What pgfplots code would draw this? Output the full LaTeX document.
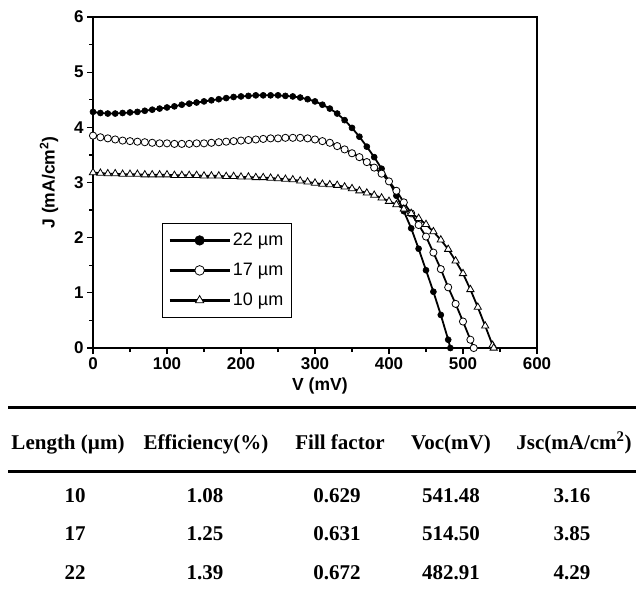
\documentclass[border=0pt]{standalone}
\usepackage{fontspec}
\setmainfont{Liberation Sans}
\newfontfamily\tabfont{Liberation Serif}
\usepackage{pgfplots}
\pgfplotsset{compat=1.18}

\begin{document}
\begin{tikzpicture}
\useasboundingbox (0pt,0pt) rectangle (636pt,-591pt);
\begin{axis}[
  at={(93pt,-348pt)}, anchor=south west,
  scale only axis, width=444pt, height=331pt,
  xmin=0, xmax=600, ymin=0, ymax=6,
  xtick={0,100,...,600}, ytick={0,1,...,6},
  minor x tick num=1, minor y tick num=1,
  tick align=outside, tick pos=left,
  major tick length=6pt, minor tick length=4pt,
  axis line style={line width=1.3pt},
  every tick/.style={line width=1.2pt, black},
  /pgf/number format/assume math mode=true,
  ticklabel style={font=\fontsize{17}{17}\selectfont\bfseries},
  xlabel={V (mV)}, ylabel={J (mA/cm\textsuperscript{2})},
  label style={font=\fontsize{17.5}{17.5}\selectfont\bfseries},
  xlabel style={at={(axis description cs:0.511,-0.115)}, anchor=center},
  ylabel style={at={(axis description cs:-0.099,0.5)}, anchor=center},
  legend style={at={(axis description cs:0.155,0.378)}, anchor=north west,
    draw=black, line width=1pt, font=\fontsize{18}{18}\selectfont,
    row sep=12pt, inner xsep=6pt, inner ysep=8pt},
  legend cell align=left,
  legend image code/.code={
    \draw[line width=2.6pt, black] (0pt,0pt) -- (60pt,0pt);
    \draw[#1, line width=1pt] plot[only marks, mark size=4.8pt] coordinates {(30pt,0pt)};
  },
]
% 22 um
\addplot[black, line width=1.8pt, mark=*, mark size=3pt, mark options={fill=black, line width=0.6pt}] coordinates {
(0,4.28)(10,4.26)(20,4.25)(30,4.25)(40,4.26)(50,4.27)(60,4.28)(70,4.30)(80,4.32)(90,4.34)
(100,4.36)(110,4.38)(120,4.41)(130,4.43)(140,4.45)(150,4.47)(160,4.49)(170,4.51)(180,4.53)(190,4.55)
(200,4.56)(210,4.57)(220,4.58)(230,4.58)(240,4.58)(250,4.58)(260,4.57)(270,4.56)(280,4.54)(290,4.51)
(300,4.47)(310,4.41)(320,4.34)(330,4.25)(340,4.13)(350,3.99)(360,3.83)(370,3.65)(380,3.46)(390,3.25)
(400,3.02)(410,2.76)(420,2.48)(430,2.17)(440,1.80)(450,1.41)(460,1.02)(470,0.60)(480,0.15)(482.91,0)
};
\addlegendentry{22 µm}
% 17 um
\addplot[black, line width=1.8pt, mark=*, mark size=3.6pt, mark options={fill=white, line width=0.8pt}] coordinates {
(0,3.85)(10,3.82)(20,3.80)(30,3.78)(40,3.76)(50,3.75)(60,3.74)(70,3.73)(80,3.72)(90,3.71)
(100,3.71)(110,3.70)(120,3.70)(130,3.70)(140,3.71)(150,3.71)(160,3.72)(170,3.73)(180,3.74)(190,3.75)
(200,3.76)(210,3.77)(220,3.78)(230,3.79)(240,3.80)(250,3.80)(260,3.81)(270,3.81)(280,3.81)(290,3.80)
(300,3.78)(310,3.75)(320,3.72)(330,3.66)(340,3.60)(350,3.53)(360,3.46)(370,3.37)(380,3.27)(390,3.16)
(400,3.02)(410,2.85)(420,2.64)(430,2.44)(440,2.23)(450,2.02)(460,1.73)(470,1.43)(480,1.10)(490,0.80)
(500,0.48)(510,0.15)(514.50,0)
};
\addlegendentry{17 µm}
% 10 um
\addplot[black, line width=1.8pt, mark=triangle*, mark size=4.2pt, mark options={fill=white, line width=0.8pt}] coordinates {
(0,3.18)(10,3.17)(20,3.16)(30,3.16)(40,3.15)(50,3.15)(60,3.15)(70,3.14)(80,3.14)(90,3.14)
(100,3.14)(110,3.13)(120,3.13)(130,3.13)(140,3.13)(150,3.12)(160,3.12)(170,3.12)(180,3.11)(190,3.11)
(200,3.10)(210,3.10)(220,3.09)(230,3.09)(240,3.08)(250,3.07)(260,3.06)(270,3.05)(280,3.03)(290,3.01)
(300,2.99)(310,2.97)(320,2.96)(330,2.95)(340,2.92)(350,2.89)(360,2.85)(370,2.81)(380,2.77)(390,2.72)
(400,2.66)(410,2.60)(420,2.52)(430,2.44)(440,2.35)(450,2.24)(460,2.11)(470,1.96)(480,1.79)(490,1.58)
(500,1.35)(510,1.06)(520,0.74)(530,0.40)(540,0.05)(541.48,0)
};
\addlegendentry{10 µm}
\end{axis}

% table below the chart
\draw[line width=3pt] (8pt,-407pt) -- (640pt,-407pt);
\draw[line width=3pt] (8pt,-471pt) -- (640pt,-471pt);
\begin{scope}[every node/.style={font=\tabfont\bfseries\fontsize{21}{21}\selectfont, anchor=base, inner sep=0pt}]
\node at (68pt,-449pt) {Length (µm)};
\node at (206pt,-449pt) {Efficiency(\%)};
\node at (340pt,-449pt) {Fill factor};
\node at (451pt,-449pt) {Voc(mV)};
\node at (574pt,-449pt) {Jsc(mA/cm\textsuperscript{2})};
\node at (75pt,-502pt) {10};
\node at (205pt,-502pt) {1.08};
\node at (337pt,-502pt) {0.629};
\node at (451pt,-502pt) {541.48};
\node at (572pt,-502pt) {3.16};
\node at (75pt,-540pt) {17};
\node at (205pt,-540pt) {1.25};
\node at (337pt,-540pt) {0.631};
\node at (451pt,-540pt) {514.50};
\node at (572pt,-540pt) {3.85};
\node at (75pt,-579pt) {22};
\node at (205pt,-579pt) {1.39};
\node at (337pt,-579pt) {0.672};
\node at (451pt,-579pt) {482.91};
\node at (572pt,-579pt) {4.29};
\end{scope}
\end{tikzpicture}
\end{document}
